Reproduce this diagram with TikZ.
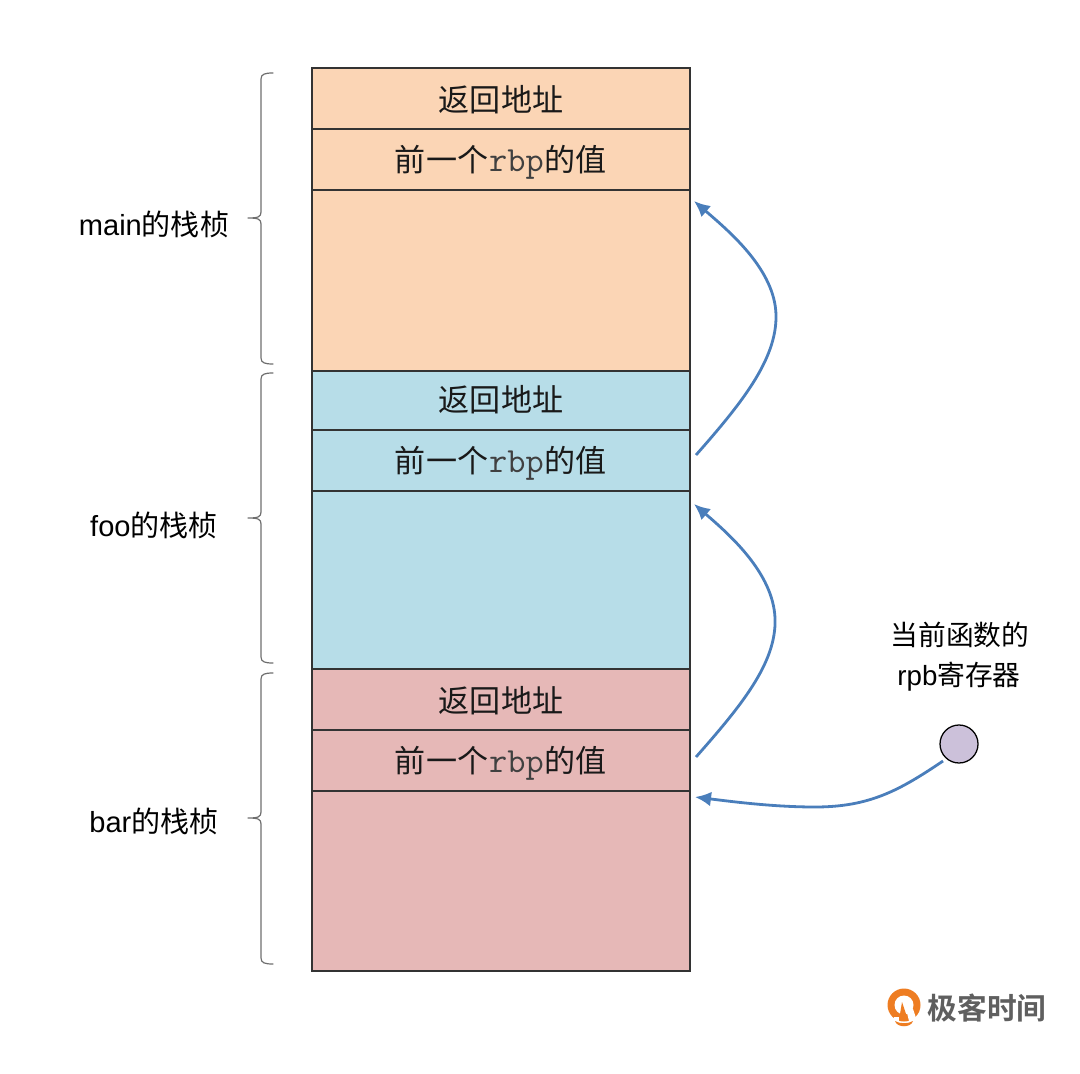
\documentclass[tikz,border=0pt]{standalone}
\usepackage{fontspec}
\setmainfont{Noto Sans CJK SC}
\newfontfamily\latinsans{Liberation Sans}
\newfontfamily\logofam{Noto Sans CJK SC Bold}
\usetikzlibrary{arrows.meta}
\definecolor{co}{HTML}{FBD5B5}
\definecolor{cb}{HTML}{B7DDE8}
\definecolor{cr}{HTML}{E6B8B7}
\definecolor{arrowblue}{HTML}{4A7EBB}
\definecolor{reg}{HTML}{CCC1DA}
\definecolor{bracegray}{HTML}{6E6E6E}
\definecolor{logoorange}{HTML}{EE7D22}
\definecolor{logogray}{HTML}{5F5F5F}
\newcommand{\rb}{\hspace{0.8pt}{\ttfamily\fontsize{26.5pt}{26pt}\selectfont\color{black!75}rbp}\hspace{0.8pt}}
\tikzset{
  x=0.75pt,y=-0.75pt,
  cellbox/.style={draw=black!80,line width=0.8pt,minimum width=283.5pt,inner sep=0pt,outer sep=0pt,anchor=north west},
  celltext/.style={font=\fontsize{23.3pt}{26pt}\selectfont,text=black!90,inner sep=0pt},
  sidelabel/.style={font=\fontsize{21.8pt}{26pt}\selectfont,text=black,inner sep=0pt},
  reglabel/.style={font=\fontsize{20.8pt}{26pt}\selectfont,text=black,inner sep=0pt},
  bracepath/.style={draw=bracegray,line width=0.9pt,line cap=round,line join=round},
  link/.style={draw=arrowblue,line width=2.1pt,-{Latex[length=12pt,width=11pt]}},
}
\newcommand{\cell}[4]{\node[cellbox,fill=#2,minimum height=#4*0.75pt] (#1) at (312,#3) {};}
\newcommand{\sidebrace}[3]{%
  \path[bracepath] (273,#1) .. controls (265,#1) and (261,#1+1) .. (261,#1+6)
    -- (261,#2-6) .. controls (261,#2-1) and (258,#2) .. (248,#2)
    .. controls (258,#2) and (261,#2+1) .. (261,#2+6)
    -- (261,#3-6) .. controls (261,#3-1) and (265,#3) .. (273,#3);}
\begin{document}
\begin{tikzpicture}
\useasboundingbox (0,0) rectangle (1080,1073);
% stack cells
\cell{a1}{co}{68}{61}
\cell{a2}{co}{129}{61}
\cell{a3}{co}{190}{181}
\cell{b1}{cb}{371}{59}
\cell{b2}{cb}{430}{61}
\cell{b3}{cb}{491}{178}
\cell{c1}{cr}{669}{61}
\cell{c2}{cr}{730}{61}
\cell{c3}{cr}{791}{180}
% cell texts
\node[celltext] (ta1) at (501,99.5) {返回地址};
\node[celltext] (ta2) at (501,162) {前一个\rb{}的值};
\node[celltext] (tb1) at (501,399.5) {返回地址};
\node[celltext] (tb2) at (501,463) {前一个\rb{}的值};
\node[celltext] (tc1) at (501,700.5) {返回地址};
\node[celltext] (tc2) at (501,763) {前一个\rb{}的值};
% braces
\sidebrace{73}{218}{364}
\sidebrace{373}{518}{663}
\sidebrace{673}{818}{964}
% side labels
\node[sidelabel] (lmain) at (154,224) {{\latinsans main}的栈桢};
\node[sidelabel] (lfoo) at (154,525) {{\latinsans foo}的栈桢};
\node[sidelabel] (lbar) at (154,821) {{\latinsans bar}的栈桢};
% register
\node[draw=black,line width=0.95pt,fill=reg,circle,minimum size=28.5pt,inner sep=0pt] (regc) at (959,744) {};
\node[reglabel] (regl) at (960,634.5) {当前函数的};
\node[reglabel] (regm) at (959,676.5) {{\latinsans rpb}寄存器};
% arrows
\coordinate (s1) at (696,455);
\coordinate (e1) at (694,201);
\coordinate (s2) at (696,757);
\coordinate (e2) at (694,504);
\coordinate (s3) at (943,761);
\coordinate (e3) at (695,797);
\draw[link] (s1) .. controls (740,405) and (777,360) .. (776,315) .. controls (775,270) and (730,232) .. (e1);
\draw[link] (s2) .. controls (740,707) and (777,663) .. (775,618) .. controls (773,573) and (730,535) .. (e2);
\draw[link] (s3) .. controls (900,790) and (870,807) .. (815,807) .. controls (775,807) and (735,802) .. (e3);
% logo
\fill[logoorange] (904,1005) circle[radius=16.5];
\fill[white] (904,1005) circle[radius=9.5];
\fill[logoorange] (902,1002) -- (899,1020) -- (908,1020) -- cycle;
\fill[white] (899,1017) rectangle (894,1022);
\fill[white] (906,1009) -- (913,1009) -- (917,1021) -- (909,1021) -- cycle;
\fill[logoorange] (895,1021) .. controls (900,1024) and (908,1024) .. (913,1021) .. controls (911,1028) and (897,1028) .. (895,1021) -- cycle;
\node[font=\logofam\fontsize{22.3pt}{24pt}\selectfont,text=logogray,inner sep=0pt] (logot) at (987,1008.5) {极客时间};
\end{tikzpicture}
\end{document}
